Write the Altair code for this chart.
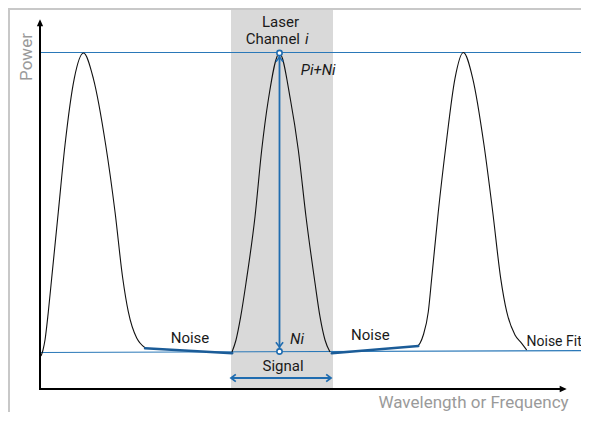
import altair as alt
import pandas as pd

# Chart geometry (plot area == whole chart, no padding)
W, H = 573, 404
X_MIN, P_MAX = -32, 381          # data value at left edge / top edge

# ---------------- data (schematic values) ----------------
left_peak_x = [1, 3, 5, 8.3, 11.7, 18.3, 25, 34.3, 43.5, 53.3, 65.7, 75, 82.7, 88.3, 96.7, 100, 106]
left_peak_p = [33, 39, 49, 77, 111, 177, 244, 310.7, 336, 310.7, 244, 177.3, 111, 77.3, 51, 46, 40.5]

mid_peak_x = [192, 196, 200.7, 206, 215, 221.7, 228.3, 239.5, 250.5, 258.3, 266, 275, 280, 285, 290]
mid_peak_p = [37, 49, 72.3, 106, 172.3, 239, 289, 336, 289, 239, 172.3, 106, 72.3, 49, 37]

right_peak_x = [376.7, 380, 383.3, 388.3, 391.7, 398.3, 406, 415, 423.3, 432.7, 444, 452.7, 460.7, 466.7, 475, 481.7, 486.7]
right_peak_p = [42.3, 45.7, 54, 77.3, 110.7, 177.3, 244, 310.7, 336.5, 310.7, 244, 177.3, 110.7, 77.3, 54, 45.7, 39]

noise_left_x, noise_left_p = [105, 192.3], [40.7, 35.7]
noise_right_x, noise_right_p = [291.7, 378.3], [35.7, 43]
noise_fit_x, noise_fit_p = [0, 560], [36.5, 38.5]
peak_level_x, peak_level_p = [0, 560], [336.5, 336.5]

band_x, band_x2 = [191], [293]

arrow_x = 239.5
arrow_lo, arrow_hi = 37.5, 336
signal_lo, signal_hi, signal_p = 191, 291, 11

# text labels
reg_text = ["Laser", "Signal", "Noise", "Noise"]
reg_x = [240.5, 243, 150, 330.3]
reg_p = [367.5, 23, 51, 54.5]

# ---------------- helpers ----------------
xs = alt.Scale(domain=[X_MIN, X_MIN + W], nice=False, zero=False)
ys = alt.Scale(domain=[P_MAX - H, P_MAX], nice=False, zero=False)


def X(f="x"):
    return alt.X(f"{f}:Q", scale=xs, axis=None)


def Y(f="p"):
    return alt.Y(f"{f}:Q", scale=ys, axis=None)


def df(xv, pv):
    return pd.DataFrame({"x": xv, "p": pv})


BLUE = "#2a78b8"
ARROW_BLUE = "#1f6cb0"
NOISE_BLUE = "#1b5c98"
TXT = "#1a1a1a"
GRAY_TXT = "#9a9a9a"
FONT = "Roboto"

layers = []

# grey channel band
layers.append(
    alt.Chart(pd.DataFrame({"x": band_x, "x2": band_x2, "p": [0], "p2": [P_MAX]}))
    .mark_rect(color="#d9d9d9")
    .encode(x=X(), x2="x2:Q", y=Y(), y2="p2:Q")
)

# frame (decorative)
layers.append(alt.Chart(pd.DataFrame({"a": [0]})).mark_rule(color="#c8c8c8", strokeWidth=2)
              .encode(x=alt.value(0), x2=alt.value(W), y=alt.value(1)))
layers.append(alt.Chart(pd.DataFrame({"a": [0]})).mark_rule(color="#c8c8c8", strokeWidth=2)
              .encode(x=alt.value(1), y=alt.value(0), y2=alt.value(H)))

# reference lines
layers.append(alt.Chart(df(peak_level_x, peak_level_p)).mark_line(color=BLUE, strokeWidth=1.2)
              .encode(x=X(), y=Y()))
layers.append(alt.Chart(df(noise_fit_x, noise_fit_p)).mark_line(color=BLUE, strokeWidth=1.2)
              .encode(x=X(), y=Y()))

# peaks
for px, pp in [(left_peak_x, left_peak_p), (mid_peak_x, mid_peak_p), (right_peak_x, right_peak_p)]:
    layers.append(alt.Chart(df(px, pp)).mark_line(color="#111111", strokeWidth=1.1, interpolate="monotone")
                  .encode(x=X(), y=Y()))

# noise segments
for nx, npv in [(noise_left_x, noise_left_p), (noise_right_x, noise_right_p)]:
    layers.append(alt.Chart(df(nx, npv)).mark_line(color=NOISE_BLUE, strokeWidth=2.4, strokeCap="round")
                  .encode(x=X(), y=Y()))

# axes
layers.append(alt.Chart(pd.DataFrame({"x": [0], "p": [-1], "p2": [366]}))
              .mark_rule(color="#000000", strokeWidth=2).encode(x=X(), y=Y(), y2="p2:Q"))
layers.append(alt.Chart(pd.DataFrame({"x": [-1], "x2": [522], "p": [0]}))
              .mark_rule(color="#000000", strokeWidth=2).encode(x=X(), x2="x2:Q", y=Y()))
HEAD = "M0,0L0.9,2L-0.9,2Z"
layers.append(alt.Chart(df([0], [369.7])).mark_point(shape=HEAD, size=49, filled=True, color="#000000", opacity=1)
              .encode(x=X(), y=Y()))
layers.append(alt.Chart(df([526.7], [0])).mark_point(shape=HEAD, size=49, filled=True, color="#000000", opacity=1, angle=90)
              .encode(x=X(), y=Y()))

# vertical measurement arrow
layers.append(alt.Chart(pd.DataFrame({"x": [arrow_x], "p": [arrow_lo + 2], "p2": [arrow_hi - 2]}))
              .mark_rule(color=ARROW_BLUE, strokeWidth=1.8).encode(x=X(), y=Y(), y2="p2:Q"))
CHEV = "M-1.2,-0.9L0,0L-1.2,0.9"
layers.append(alt.Chart(df([arrow_x], [arrow_hi - 4])).mark_point(shape=CHEV, size=64, filled=False, color=ARROW_BLUE,
                                                                   strokeWidth=1.6, opacity=1, angle=270)
              .encode(x=X(), y=Y()))
layers.append(alt.Chart(df([arrow_x], [arrow_lo + 4.5])).mark_point(shape=CHEV, size=64, filled=False, color=ARROW_BLUE,
                                                                     strokeWidth=1.6, opacity=1, angle=90)
              .encode(x=X(), y=Y()))
layers.append(alt.Chart(df([arrow_x, arrow_x], [arrow_lo, arrow_hi]))
              .mark_point(shape="circle", size=28, filled=False, fill="white", fillOpacity=1, color=ARROW_BLUE,
                          strokeWidth=1.6, opacity=1)
              .encode(x=X(), y=Y()))

# horizontal signal arrow
layers.append(alt.Chart(pd.DataFrame({"x": [signal_lo + 0.5], "x2": [signal_hi - 0.5], "p": [signal_p]}))
              .mark_rule(color=ARROW_BLUE, strokeWidth=1.8).encode(x=X(), x2="x2:Q", y=Y()))
layers.append(alt.Chart(df([signal_lo], [signal_p])).mark_point(shape=CHEV, size=64, filled=False, color=ARROW_BLUE,
                                                                strokeWidth=1.8, opacity=1, angle=180)
              .encode(x=X(), y=Y()))
layers.append(alt.Chart(df([signal_hi], [signal_p])).mark_point(shape=CHEV, size=64, filled=False, color=ARROW_BLUE,
                                                                strokeWidth=1.8, opacity=1, angle=0)
              .encode(x=X(), y=Y()))

# texts
layers.append(alt.Chart(pd.DataFrame({"x": reg_x, "p": reg_p, "t": reg_text}))
              .mark_text(font=FONT, fontSize=15, color=TXT, align="center", baseline="middle")
              .encode(x=X(), y=Y(), text="t:N"))
layers.append(alt.Chart(pd.DataFrame({"x": [260], "p": [350], "t": ["Channel"]}))
              .mark_text(font=FONT, fontSize=15, color=TXT, align="right", baseline="middle")
              .encode(x=X(), y=Y(), text="t:N"))
layers.append(alt.Chart(pd.DataFrame({"x": [265], "p": [350], "t": ["i"]}))
              .mark_text(font=FONT, fontSize=15, color=TXT, align="left", baseline="middle", fontStyle="italic")
              .encode(x=X(), y=Y(), text="t:N"))
layers.append(alt.Chart(pd.DataFrame({"x": [260.7, 250], "p": [319, 50], "t": ["Pi+Ni", "Ni"]}))
              .mark_text(font=FONT, fontSize=15, color=TXT, align="left", baseline="middle", fontStyle="italic")
              .encode(x=X(), y=Y(), text="t:N"))
layers.append(alt.Chart(pd.DataFrame({"x": [486.5], "p": [47.5], "t": ["Noise Fit"]}))
              .mark_text(font=FONT, fontSize=14, color=TXT, align="left", baseline="middle")
              .encode(x=X(), y=Y(), text="t:N"))
layers.append(alt.Chart(pd.DataFrame({"x": [433.5], "p": [-14], "t": ["Wavelength or Frequency"]}))
              .mark_text(font=FONT, fontSize=17, color=GRAY_TXT, align="center", baseline="middle")
              .encode(x=X(), y=Y(), text="t:N"))
layers.append(alt.Chart(pd.DataFrame({"x": [-13.5], "p": [332], "t": ["Power"]}))
              .mark_text(font=FONT, fontSize=17, color=GRAY_TXT, align="center", baseline="middle", angle=270)
              .encode(x=X(), y=Y(), text="t:N"))

chart = (
    alt.layer(*layers)
    .properties(width=W, height=H, autosize=alt.AutoSizeParams(type="none"), padding=0, background="white")
    .configure_view(stroke=None)
)

chart.save("out.html", embed_options={"renderer": "svg", "actions": False})
